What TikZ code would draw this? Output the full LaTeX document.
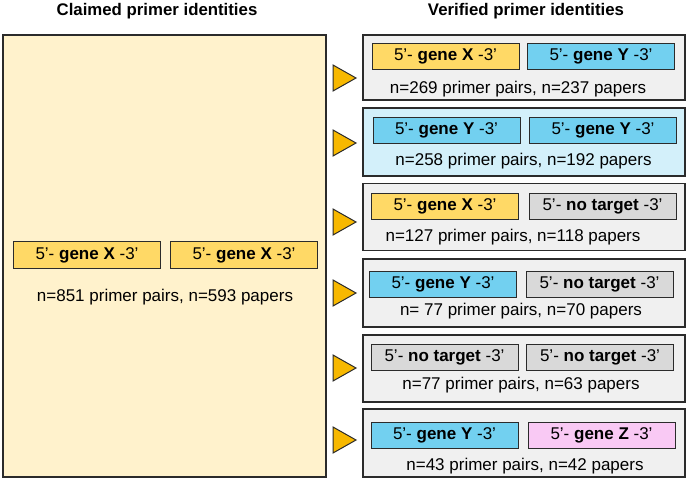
\documentclass[tikz,border=0pt]{standalone}
\usepackage{fontspec}
\setmainfont{Liberation Sans}
\usetikzlibrary{calc}
\definecolor{cream}{HTML}{FFF2CC}
\definecolor{genex}{HTML}{FFD966}
\definecolor{geney}{HTML}{72D0F0}
\definecolor{genez}{HTML}{F9C9F4}
\definecolor{notarget}{HTML}{D9D9D9}
\definecolor{outergray}{HTML}{F0F0F0}
\definecolor{lightblue}{HTML}{D3F0FA}
\definecolor{arrowfill}{HTML}{F7B800}
\definecolor{edge}{HTML}{2B2B2B}
\begin{document}
\begin{tikzpicture}[x=1pt,y=-1pt,
  title/.style={font=\bfseries\fontsize{16.8}{19}\selectfont, inner sep=0pt},
  bigbox/.style={draw=edge, line width=1.2pt, fill=cream, minimum width=323pt, minimum height=442pt, inner sep=0pt},
  outbox/.style={draw=edge, line width=1.2pt, fill=outergray, minimum width=322pt, inner sep=0pt},
  primer/.style={draw=edge, line width=0.9pt, minimum width=147pt, minimum height=26pt, inner sep=0pt, font=\fontsize{17}{20}\selectfont},
  count/.style={inner sep=0pt, font=\fontsize{17}{20}\selectfont},
  tri/.style={draw=edge, line width=1pt, fill=arrowfill, line join=miter}
]
\useasboundingbox (0,0) rectangle (690,480);
\newcommand{\pr}[1]{5’- \textbf{#1} -3’}
% titles
\node[title] (tl) at (157,11) {Claimed primer identities};
\node[title] (tr) at (526,11) {Verified primer identities};
% left box
\node[bigbox] (big) at (164.5,256) {};
\node[primer, minimum height=27pt, fill=genex] (l1) at (87,255) {\pr{gene X}};
\node[primer, minimum height=27pt, fill=genex] (l2) at (244,255) {\pr{gene X}};
\node[count] (lc) at (165,297) {n=851 primer pairs, n=593 papers};
% right boxes
\foreach \i/\yc/\hh/\yi/\yt/\xa/\xb/\fc/\la/\lb/\ca/\cb/\txt/\tx in {
  1/67.5/65/56/89/445.5/601/outergray/genex/geney/gene X/gene Y/{n=269 primer pairs, n=237 papers}/518,
  2/142/68/130/161.5/446.5/603/lightblue/geney/geney/gene Y/gene Y/{n=258 primer pairs, n=192 papers}/523.5,
  3/217/67/206/237/445/602.5/outergray/genex/notarget/gene X/no target/{n=127 primer pairs, n=118 papers}/513,
  4/293/68/284/311/443/599.5/outergray/geney/notarget/gene Y/no target/{n= 77 primer pairs, n=70 papers}/521,
  5/368.5/67/357.5/385.5/444.5/600/outergray/notarget/notarget/no target/no target/{n=77 primer pairs, n=63 papers}/521,
  6/443/68/435/466/444.5/601.5/outergray/geney/genez/gene Y/gene Z/{n=43 primer pairs, n=42 papers}/525}{
  \node[outbox, minimum height=\hh pt, fill=\fc] (r\i) at (524,\yc) {};
  \node[primer, fill=\la] (r\i a) at (\xa,\yi) {\pr{\ca}};
  \node[primer, fill=\lb] (r\i b) at (\xb,\yi) {\pr{\cb}};
  \node[count] (r\i c) at (\tx,\yt) {\txt};
}
% triangles
\foreach \i/\ty in {1/78,2/143,3/222,4/293,5/368,6/440}{
  \coordinate (t\i) at (333,\ty);
  \draw[tri] ($(t\i)+(0,-13)$) -- ($(t\i)+(23,0)$) -- ($(t\i)+(0,13)$) -- cycle;
}
\end{tikzpicture}
\end{document}
